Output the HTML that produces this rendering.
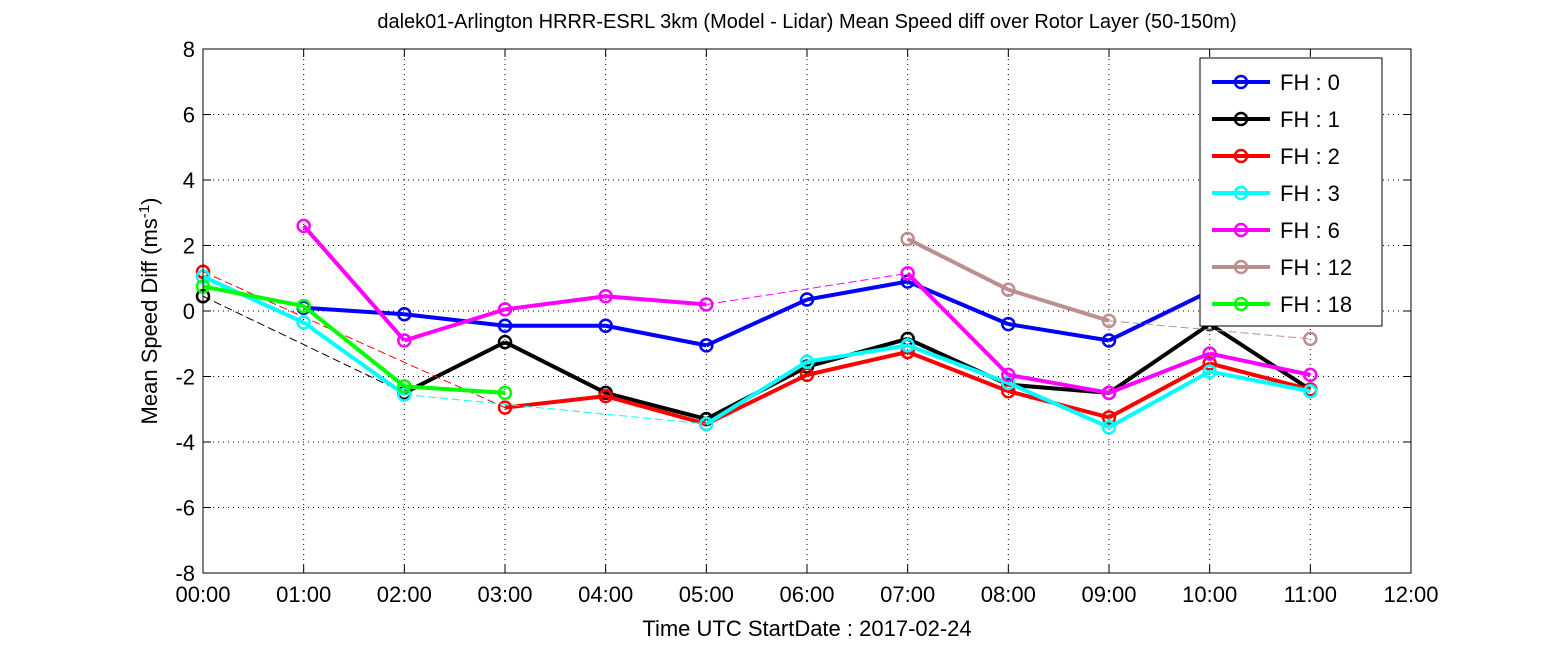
<!DOCTYPE html>
<html><head><meta charset="utf-8"><style>
body{margin:0;background:#fff;}
svg{display:block;font-family:"Liberation Sans",Arial,sans-serif;}
</style></head><body>
<svg id="c" width="1559" height="656">
<rect x="0" y="0" width="1559" height="656" fill="#fff"/>
<text x="807" y="28" font-size="20" text-anchor="middle">dalek01-Arlington HRRR-ESRL 3km (Model - Lidar) Mean Speed diff over Rotor Layer (50-150m)</text>
<g id="grid"></g>
<g id="series"></g>
<rect x="203" y="49" width="1208" height="524" fill="none" stroke="#000" stroke-width="1"/>
<g id="ticks"></g>
<text transform="translate(157,311) rotate(-90)" font-size="22" text-anchor="middle">Mean Speed Diff (ms<tspan dy="-8" font-size="15">-1</tspan><tspan dy="8">)</tspan></text>
<text x="807" y="636" font-size="22" text-anchor="middle">Time UTC    StartDate : 2017-02-24</text>
<g id="legend"></g>
</svg>
<script>
const hours=[0,1,2,3,4,5,6,7,8,9,10,11];
const xTicks=["00:00","01:00","02:00","03:00","04:00","05:00","06:00","07:00","08:00","09:00","10:00","11:00","12:00"];
const yTicks=[-8,-6,-4,-2,0,2,4,6,8];
const seriesNames=["FH : 0","FH : 1","FH : 2","FH : 3","FH : 6","FH : 12","FH : 18"];
const seriesColors=["#0000ff","#000000","#ff0000","#00ffff","#ff00ff","#bc8f8f","#00ff00"];
const fh0=[null,0.1,-0.1,-0.45,-0.45,-1.05,0.35,0.9,-0.4,-0.9,0.6,null];
const fh1=[0.45,null,-2.5,-0.95,-2.5,-3.3,-1.7,-0.85,-2.25,-2.5,-0.4,-2.4];
const fh2=[1.2,null,null,-2.95,-2.6,-3.45,-1.95,-1.25,-2.45,-3.25,-1.6,-2.4];
const fh3=[1.05,-0.35,-2.55,null,null,-3.45,-1.55,-1.05,-2.2,-3.55,-1.85,-2.45];
const fh6=[null,2.6,-0.9,0.05,0.45,0.2,null,1.15,-1.95,-2.5,-1.3,-1.95];
const fh12=[null,null,null,null,null,null,null,2.2,0.65,-0.3,null,-0.85];
const fh18=[0.75,0.15,-2.3,-2.5,null,null,null,null,null,null,null,null];
const allSeries=[fh0,fh1,fh2,fh3,fh6,fh12,fh18];
const X0=203,X1=1411,Y0=573,Y1=49;
const xs=h=>X0+(X1-X0)*h/12;
const ys=v=>Y0-(Y0-Y1)*(v+8)/16;
const NS="http://www.w3.org/2000/svg";
function mk(tag,attrs,parent){const e=document.createElementNS(NS,tag);for(const k in attrs)e.setAttribute(k,attrs[k]);parent.appendChild(e);return e;}
const grid=document.getElementById('grid'),ticks=document.getElementById('ticks');
xTicks.forEach((t,i)=>{const x=xs(i);
 if(i>0&&i<12){const g=mk('line',{x1:x,x2:x,y1:Y1,y2:Y0,stroke:'#000','stroke-width':1,'stroke-dasharray':'1,4'},grid);
 
 }
 mk('line',{x1:x,x2:x,y1:Y0,y2:Y0-8,stroke:'#000'},ticks);
 mk('line',{x1:x,x2:x,y1:Y1,y2:Y1+8,stroke:'#000'},ticks);
 const tx=mk('text',{x:x,y:Y0+29,'font-size':22,'text-anchor':'middle'},ticks);tx.textContent=t;
 
 });
yTicks.forEach(v=>{const y=ys(v);
 if(v>-8&&v<8){const g=mk('line',{x1:X0,x2:X1,y1:y,y2:y,stroke:'#000','stroke-width':1,'stroke-dasharray':'1,4'},grid);
 
 }
 mk('line',{x1:X0,x2:X0+8,y1:y,y2:y,stroke:'#000'},ticks);
 mk('line',{x1:X1,x2:X1-8,y1:y,y2:y,stroke:'#000'},ticks);
 const tx=mk('text',{x:X0-8,y:y+8,'font-size':22,'text-anchor':'end'},ticks);tx.textContent=v;
 
 });
const sg=document.getElementById('series');
allSeries.forEach((d,si)=>{const col=seriesColors[si];
 const g=mk('g',{},sg);
 
 
 let prev=null;
 d.forEach((v,i)=>{if(v===null)return;
  if(prev!==null){const solid=(i-prev===1);
   const l=mk('line',{x1:xs(hours[prev]),y1:ys(d[prev]),x2:xs(hours[i]),y2:ys(v),stroke:col,'stroke-width':solid?4:1,'stroke-dasharray':solid?'none':'8,4'},g);
   
   }
  prev=i;});
 d.forEach((v,i)=>{if(v===null)return;
  const c=mk('circle',{cx:xs(hours[i]),cy:ys(v),r:6,fill:'none',stroke:col,'stroke-width':2.5},g);
  
  });
});
const lg=document.getElementById('legend');
const box=mk('rect',{x:1200,y:58,width:182,height:268,fill:'#fff',stroke:'#000','stroke-width':1},lg);


seriesNames.forEach((n,i)=>{const y=82+i*37;const col=seriesColors[i];
 const e=mk('g',{},lg);
 
 
 mk('line',{x1:1212,x2:1270,y1:y,y2:y,stroke:col,'stroke-width':4},e);
 mk('circle',{cx:1241,cy:y,r:6,fill:'none',stroke:col,'stroke-width':2.5},e);
 const t=mk('text',{x:1280,y:y+8,'font-size':22},e);t.textContent=n;});
</script>
</body></html>
